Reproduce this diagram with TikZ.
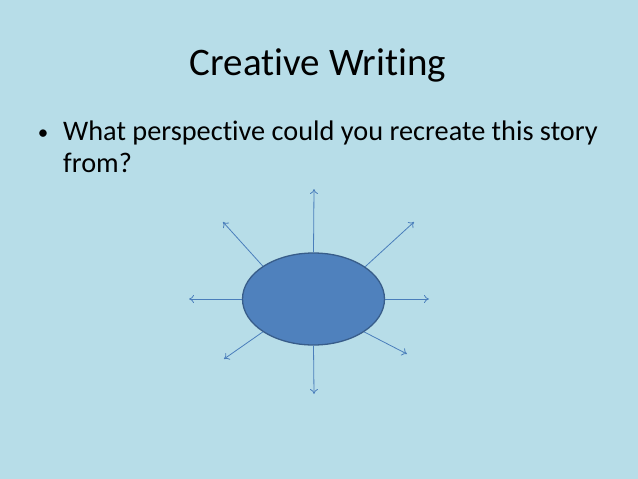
\documentclass[tikz,border=0pt]{standalone}
\usepackage{fontspec}
\setmainfont{Carlito}[Ligatures=NoCommon]
\usetikzlibrary{shapes.geometric,arrows.meta}

\definecolor{slidebg}{RGB}{183,221,232}
\definecolor{blobfill}{RGB}{79,129,189}
\definecolor{blobline}{RGB}{56,93,138}
\definecolor{rayline}{RGB}{74,126,187}

\tikzset{
    blob/.style={ellipse, draw=blobline, line width=1.3pt, fill=blobfill,
        minimum width=142pt, minimum height=92pt, inner sep=0pt},
    ray/.style={draw=rayline, line width=0.8pt, -{To[length=5pt,width=8pt]}},
    slidetext/.style={inner sep=0pt, text=black}
}

\begin{document}
\begin{tikzpicture}[x=1pt,y=-1pt]
    \fill[slidebg] (0,0) rectangle (638,479);
    \useasboundingbox (0,0) rectangle (638,479);
    % title and bullet
    \node[slidetext, anchor=base] (title) at (318,75) {\fontsize{39}{47}\selectfont Creative Writing};
    \node[slidetext, anchor=base] (dot) at (43,139) {\fontsize{21}{25}\selectfont •};
    \node[slidetext, anchor=base west] (line1) at (63,140) {\fontsize{28.3}{34}\selectfont What perspective could you recreate this story};
    \node[slidetext, anchor=base west] (line2) at (63,172) {\fontsize{28.3}{34}\selectfont from?};
    % the ellipse and its rays
    \node[blob] (hub) at (313.5,299) {};
    \coordinate (N) at (314,189);
    \coordinate (S) at (314,394);
    \coordinate (W) at (189,299);
    \coordinate (E) at (429,299);
    \coordinate (NW) at (223,222);
    \coordinate (NE) at (414,222);
    \coordinate (SW) at (224,359);
    \coordinate (SE) at (407,354);
    \draw[ray] (hub.north) -- (N);
    \draw[ray] (hub.south) -- (S);
    \draw[ray] (hub.west) -- (W);
    \draw[ray] (hub.east) -- (E);
    \draw[ray] (hub.147) -- (NW);
    \draw[ray] (hub.32) -- (NE);
    \draw[ray] (hub.213) -- (SW);
    \draw[ray] (hub.327) -- (SE);
\end{tikzpicture}
\end{document}
